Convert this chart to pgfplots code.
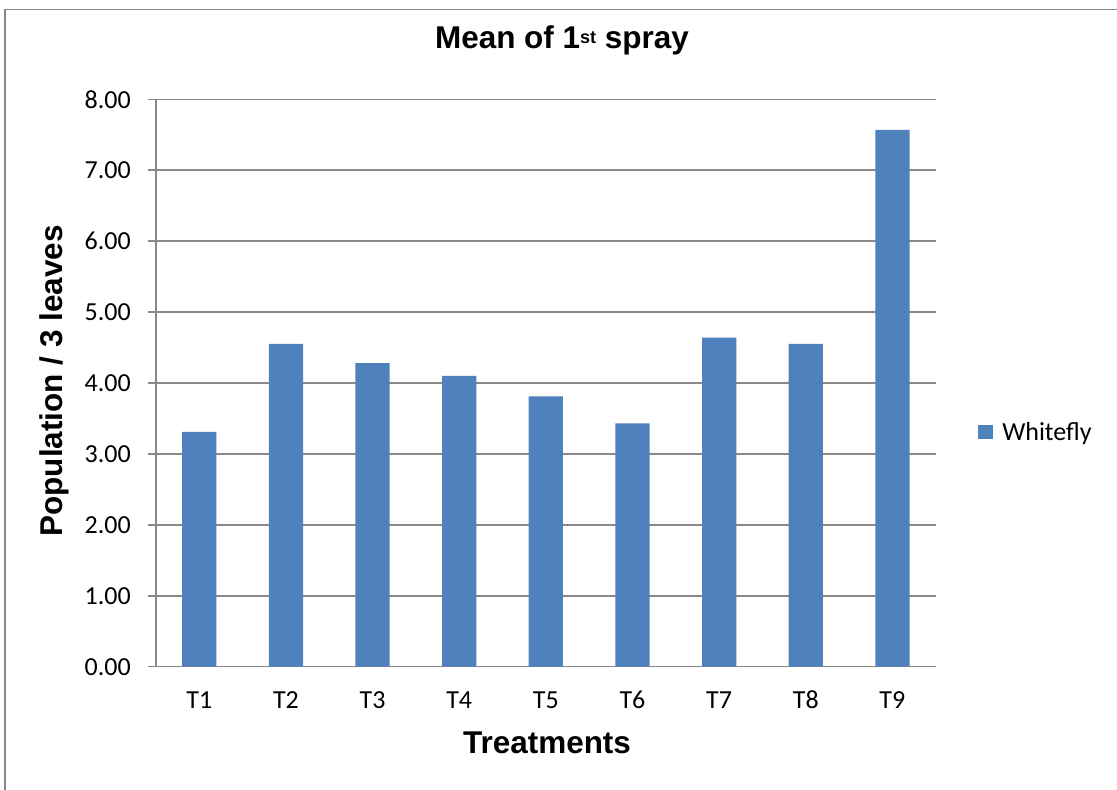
\documentclass[border=0pt]{standalone}
\usepackage{pgfplots}
\pgfplotsset{compat=1.18}
\usepackage{fontspec}
\setmainfont{Carlito}
\newfontfamily\arial{Liberation Sans}
\definecolor{barblue}{HTML}{4F81BD}
\definecolor{gridgray}{HTML}{898989}

\begin{document}
\begin{tikzpicture}
    % page = 1117 x 789 px, 1 px = 0.75 pt, axis south west at (156,666.7) px
    \useasboundingbox (-117pt,-91.725pt) rectangle (720.75pt,500.025pt);
    \fill[white] (-117pt,-91.725pt) rectangle (720.75pt,500.025pt);
    \draw[gridgray, line width=1.3pt] (-113.3pt,-95pt) -- (-113.3pt,492.9pt) -- (725pt,492.9pt);
    \begin{axis}[
            at={(0,0)}, anchor=south west,
            scale only axis,
            width=584.8pt, height=425.55pt,
            font=\fontsize{19.5pt}{23pt}\selectfont,
            /pgf/number format/assume math mode=true,
            %
            xmin=0.5, xmax=9.5,
            ymin=0, ymax=8,
            xtick={1,...,9},
            xticklabels={T1,T2,T3,T4,T5,T6,T7,T8,T9},
            ytick={0,...,8},
            yticklabel={\pgfmathprintnumber[fixed, fixed zerofill, precision=2]{\tick}},
            %
            axis lines=left,
            axis line style={-, gridgray, line width=1.1pt},
            ymajorgrids,
            major grid style={gridgray, line width=1.1pt},
            tick align=outside,
            major tick length=6pt,
            major y tick style={gridgray, line width=1.1pt},
            major x tick style={draw=none},
            yticklabel style={inner sep=0pt, anchor=east, xshift=-12.75pt},
            xticklabel style={inner sep=0pt, anchor=base, yshift=-25.5pt},
            %
            title={\arial\bfseries\fontsize{23.6pt}{28pt}\selectfont Mean of 1\raisebox{3.2pt}{\fontsize{13.5pt}{16pt}\selectfont st} spray},
            title style={at={(0.5207,1.0904)}, anchor=center, inner sep=0pt},
            xlabel={\arial\bfseries\fontsize{23.6pt}{28pt}\selectfont Treatments},
            xlabel style={at={(0.5015,-0.1345)}, anchor=center, inner sep=0pt},
            ylabel={\arial\bfseries\fontsize{23.6pt}{28pt}\selectfont Population / 3 leaves},
            ylabel style={at={(-0.1302,0.5035)}, anchor=center, inner sep=0pt, rotate=0},
            %
            legend style={at={(1.0542,0.4136)}, anchor=west, draw=none, fill=none,
                inner sep=0pt, nodes={inner sep=0pt, anchor=west},
                font=\fontsize{19.5pt}{23pt}\selectfont},
            legend cell align=left,
            legend image code/.code={
                \fill[barblue] (0pt,-5.6pt) rectangle (11.25pt,5.6pt);
                \path (18pt,0pt);
            },
        ]

        \addplot[ybar, bar width=25.7pt, fill=barblue, draw=none] coordinates {
            (1, 3.31)
            (2, 4.55)
            (3, 4.28)
            (4, 4.10)
            (5, 3.81)
            (6, 3.43)
            (7, 4.64)
            (8, 4.55)
            (9, 7.57)
        };
        \addlegendentry{Whitefly}

    \end{axis}
\end{tikzpicture}
\end{document}
